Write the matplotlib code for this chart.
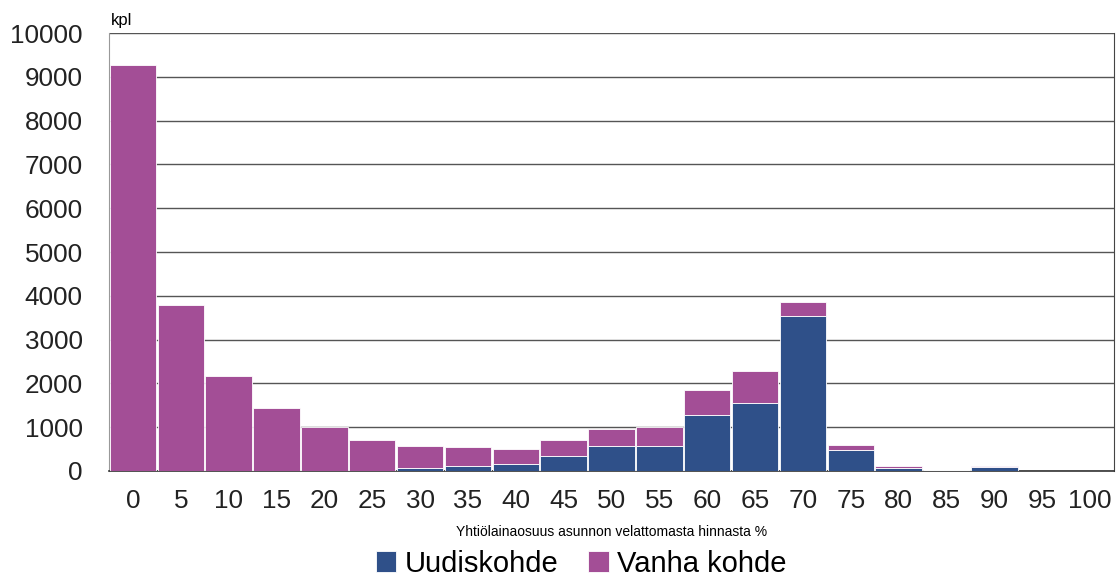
import matplotlib
matplotlib.use('Agg')
import matplotlib.pyplot as plt
import numpy as np

plt.rcParams['font.family'] = ['Liberation Sans', 'DejaVu Sans']

# yhtiolainaosuus luokat (%)
categories = ['0', '5', '10', '15', '20', '25', '30', '35', '40', '45', '50',
              '55', '60', '65', '70', '75', '80', '85', '90', '95', '100']
# kokonaismaarat (kpl)
uudis = [0, 0, 0, 0, 0, 0, 60, 120, 145, 350, 560,
         560, 1270, 1540, 3530, 465, 55, 10, 90, 0, 0]
totals = [9270, 3790, 2170, 1440, 1000, 700, 570, 550, 495, 700, 950,
          1000, 1840, 2280, 3850, 590, 115, 25, 115, 0, 0]
vanha = [t - u for t, u in zip(totals, uudis)]

blue = '#2F5089'
purple = '#A34E96'

fig = plt.figure(figsize=(11.16, 5.82), dpi=100)
ax = fig.add_axes([0.0977, 0.191, 0.9005, 0.752])

x = np.arange(len(categories))
ax.bar(x, uudis, width=0.97, color=blue, edgecolor='white', linewidth=0.6,
       label='Uudiskohde', zorder=3)
ax.bar(x, vanha, width=0.97, bottom=uudis, color=purple, edgecolor='white',
       linewidth=0.6, label='Vanha kohde', zorder=3)

ax.set_xlim(-0.5, len(categories) - 0.5)
ax.set_ylim(0, 10000)
ax.set_yticks(range(0, 10001, 1000))
ax.set_xticks(x)
ax.set_xticklabels(categories)
ax.tick_params(axis='both', labelsize=18.8, length=0, colors='#222222')
ax.tick_params(axis='y', pad=19)
ax.tick_params(axis='x', pad=13)
ax.yaxis.grid(True, color='#555555', linewidth=1.0, zorder=0)

ax.spines['top'].set_visible(False)
ax.spines['left'].set_color('#999999')
ax.spines['right'].set_color('#444444')
ax.spines['bottom'].set_color('#333333')
ax.spines['bottom'].set_linewidth(1.2)

ax.text(0.002, 1.012, 'kpl', transform=ax.transAxes, fontsize=12,
        ha='left', va='bottom')
ax.set_xlabel('Yhtiölainaosuus asunnon velattomasta hinnasta %', fontsize=10,
              labelpad=9)

fig.legend(loc='lower center', bbox_to_anchor=(0.521, -0.038), ncol=2,
           fontsize=21, frameon=False, handlelength=0.7, handleheight=0.7,
           handletextpad=0.3, columnspacing=1.0)

plt.savefig('out.png')
